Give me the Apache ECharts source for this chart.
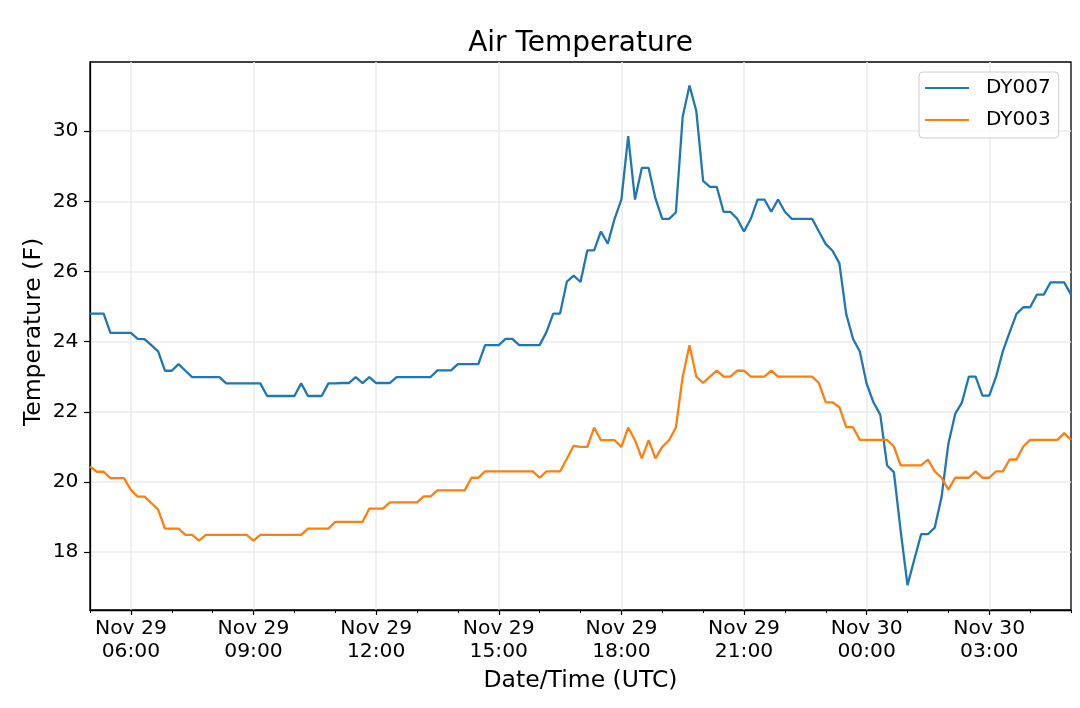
<!DOCTYPE html>
<html>
<head>
<meta charset="utf-8">
<script src="https://cdn.jsdelivr.net/npm/echarts@6/dist/echarts.min.js"></script>
<style>
html,body{margin:0;padding:0;background:#fff;}
#chart{width:1080px;height:708px;}
</style>
</head>
<body>
<div id="chart"></div>
<script>
// Series values (F), 10-minute samples starting Nov 29 05:00 UTC
const seriesNames = ['DY007', 'DY003'];
const dy007 = [
24.80,24.80,24.80,24.25,24.25,24.25,24.25,24.08,24.07,23.90,
23.72,23.17,23.17,23.36,23.17,22.99,22.99,22.99,22.99,22.99,
22.81,22.81,22.81,22.81,22.81,22.81,22.45,22.45,22.45,22.45,
22.45,22.81,22.45,22.45,22.45,22.81,22.81,22.82,22.82,22.99,
22.82,22.99,22.82,22.82,22.82,22.99,22.99,22.99,22.99,22.99,
22.99,23.18,23.18,23.18,23.36,23.36,23.36,23.36,23.90,23.90,
23.90,24.08,24.08,23.90,23.90,23.90,23.90,24.27,24.80,24.80,
25.71,25.88,25.70,26.60,26.60,27.14,26.79,27.50,28.05,29.86,
28.05,28.95,28.95,28.08,27.50,27.50,27.68,30.41,31.30,30.57,
28.58,28.41,28.41,27.70,27.70,27.50,27.14,27.50,28.05,28.05,
27.70,28.05,27.70,27.50,27.50,27.50,27.50,27.14,26.78,26.59,
26.23,24.79,24.08,23.72,22.80,22.27,21.92,20.47,20.28,18.60,
17.06,17.79,18.51,18.51,18.70,19.57,21.09,21.94,22.27,23.00,
23.00,22.46,22.46,23.00,23.73,24.27,24.79,24.98,24.98,25.34,
25.34,25.69,25.69,25.69,25.34
];
const dy003 = [
20.44,20.29,20.29,20.11,20.11,20.11,19.77,19.58,19.58,19.40,
19.21,18.67,18.67,18.67,18.49,18.49,18.33,18.49,18.49,18.49,
18.49,18.49,18.49,18.49,18.33,18.49,18.49,18.49,18.49,18.49,
18.49,18.49,18.67,18.67,18.67,18.67,18.86,18.86,18.86,18.86,
18.86,19.24,19.24,19.24,19.42,19.42,19.42,19.42,19.42,19.59,
19.59,19.76,19.76,19.76,19.76,19.76,20.12,20.12,20.30,20.30,
20.30,20.30,20.30,20.30,20.30,20.30,20.12,20.30,20.30,20.30,
20.66,21.03,21.00,21.00,21.55,21.19,21.19,21.19,21.00,21.55,
21.19,20.67,21.19,20.67,21.00,21.19,21.55,23.00,23.90,23.00,
22.82,23.00,23.17,23.00,23.00,23.17,23.17,23.00,23.00,23.00,
23.17,23.00,23.00,23.00,23.00,23.00,23.00,22.82,22.27,22.27,
22.13,21.56,21.56,21.20,21.20,21.20,21.20,21.20,21.01,20.47,
20.47,20.47,20.47,20.64,20.30,20.12,19.78,20.12,20.12,20.12,
20.30,20.12,20.12,20.30,20.30,20.64,20.64,21.01,21.20,21.20,
21.20,21.20,21.20,21.39,21.20
];
// Time axis: hours since Nov 29 00:00 UTC
const startHour = 5;
const stepHours = 1 / 6;
const xMin = 5, xMax = 29;
const xTickHours = [6, 9, 12, 15, 18, 21, 24, 27];
const xTickLabels = ['Nov 29\n06:00','Nov 29\n09:00','Nov 29\n12:00','Nov 29\n15:00','Nov 29\n18:00','Nov 29\n21:00','Nov 30\n00:00','Nov 30\n03:00'];
const yTicks = [18, 20, 22, 24, 26, 28, 30];
const yMin = 16.35, yMax = 31.97;
const yTitle = 'Temperature (F)';

const toPairs = arr => arr.map((v, i) => [startHour + i * stepHours, v]);
const FONT = 'DejaVu Sans';

const chart = echarts.init(document.getElementById('chart'), null, {renderer: 'canvas', width: 1080, height: 708});
chart.setOption({
  backgroundColor: '#ffffff',
  animation: false,
  textStyle: {fontFamily: FONT, color: '#000'},
  title: {
    text: 'Air Temperature',
    left: 580.5, top: 30, padding: 0,
    textAlign: 'center',
    textStyle: {fontFamily: FONT, fontSize: 28, fontWeight: 'normal', color: '#000'}
  },
  graphic: [{
    type: 'text', x: 33.7, y: 332, rotation: Math.PI / 2, silent: true,
    style: {text: yTitle, fontFamily: FONT, fontSize: 23.5, fill: '#000', align: 'center', verticalAlign: 'middle'}
  }],
  legend: {
    orient: 'vertical',
    left: 919, top: 72,
    padding: [6, 8, 8, 6],
    itemGap: 12,
    itemWidth: 44, itemHeight: 2,
    icon: 'rect',
    borderColor: '#cccccc', borderWidth: 1, borderRadius: 4,
    backgroundColor: 'rgba(255,255,255,0.8)',
    textStyle: {fontFamily: FONT, fontSize: 20, color: '#000', padding: [0, 0, 0, 12]},
    data: seriesNames
  },
  grid: {left: 90, top: 62, width: 981, height: 548, show: true, borderColor: '#000', borderWidth: 1.3, backgroundColor: 'transparent'},
  xAxis: [{
    type: 'value', min: xMin, max: xMax, splitNumber: 8,
    name: 'Date/Time (UTC)', nameLocation: 'middle', nameGap: 55,
    nameTextStyle: {fontFamily: FONT, fontSize: 23.5, color: '#000'},
    axisLine: {show: true, lineStyle: {color: '#000', width: 1.3}},
    axisTick: {show: true, length: 5, lineStyle: {color: '#000', width: 1.2}, customValues: xTickHours},
    axisLabel: {
      show: true, margin: 7, fontFamily: FONT, fontSize: 20.3, lineHeight: 23.3, color: '#000',
      customValues: xTickHours,
      formatter: v => { const k = xTickHours.findIndex(h => Math.abs(h - v) < 1e-6); return k >= 0 ? xTickLabels[k] : ''; }
    },
    splitLine: {show: true, lineStyle: {color: '#ebebeb', width: 1.5}}
  }, {
    type: 'value', min: xMin, max: xMax, interval: 1, position: 'bottom', gridIndex: 0,
    axisLine: {show: false},
    axisTick: {show: true, length: 3, lineStyle: {color: '#000', width: 1}},
    axisLabel: {show: false},
    splitLine: {show: false}
  }],
  yAxis: {
    type: 'value', min: yMin, max: yMax, splitNumber: 7,
    axisLine: {show: true, lineStyle: {color: '#000', width: 1.3}},
    axisTick: {show: true, length: 6, lineStyle: {color: '#000', width: 1.2}, customValues: yTicks},
    axisLabel: {
      show: true, margin: 11.5, fontFamily: FONT, fontSize: 20.3, color: '#000',
      customValues: yTicks,
      formatter: v => { const k = yTicks.findIndex(t => Math.abs(t - v) < 1e-6); return k >= 0 ? String(yTicks[k]) : ''; }
    },
    splitLine: {show: true, lineStyle: {color: '#ebebeb', width: 1.5}}
  },
  series: [
    {name: seriesNames[0], type: 'line', xAxisIndex: 0, data: toPairs(dy007), showSymbol: false, symbol: 'none',
     lineStyle: {color: '#1f77b4', width: 2.3}, itemStyle: {color: '#1f77b4'}},
    {name: seriesNames[1], type: 'line', xAxisIndex: 0, data: toPairs(dy003), showSymbol: false, symbol: 'none',
     lineStyle: {color: '#ff7f0e', width: 2.3}, itemStyle: {color: '#ff7f0e'}}
  ]
});
</script>
</body>
</html>
